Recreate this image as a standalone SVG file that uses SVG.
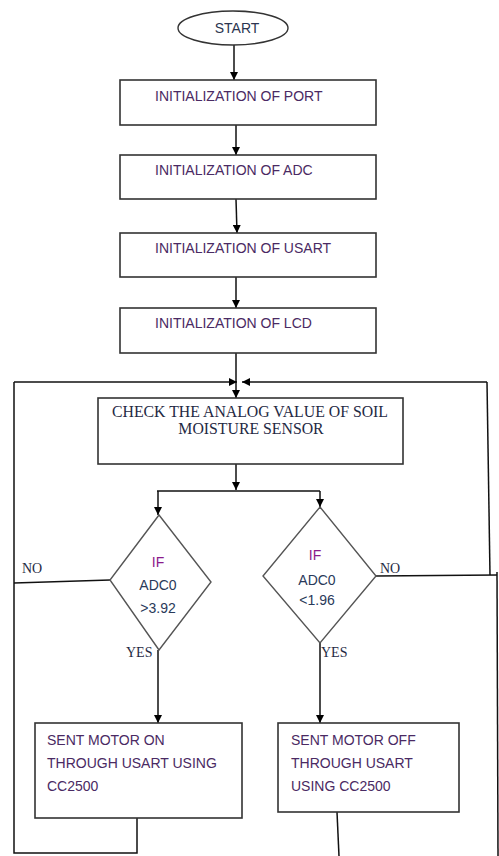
<svg xmlns="http://www.w3.org/2000/svg" width="499" height="856" viewBox="0 0 499 856">
<defs>
<marker id="ah" viewBox="0 0 10 10" refX="10" refY="5" markerWidth="8" markerHeight="8" markerUnits="userSpaceOnUse" orient="auto">
<path d="M0,0 L10,5 L0,10 Z" fill="#000"/>
</marker>
</defs>
<style>
.box{fill:#fff;stroke:#333;stroke-width:1.6}
.dia{fill:#fff;stroke:#555;stroke-width:1.4}
.ln{fill:none;stroke:#111;stroke-width:1.5}
.arr{fill:none;stroke:#111;stroke-width:1.5;marker-end:url(#ah)}
.cal{font-family:"Liberation Sans",Arial,sans-serif;font-size:14px;fill:#4a2a63}
.tim{font-family:"Liberation Serif","Times New Roman",serif;font-size:15.8px;fill:#1f2a44}
.lab{font-family:"Liberation Serif","Times New Roman",serif;font-size:14px;fill:#1f2a44}
.dt{font-family:"Liberation Sans",Arial,sans-serif;font-size:14px;fill:#2a3a5a;text-anchor:middle}
.if{fill:#8b1a8b}
</style>
<g id="connectors">
<path class="arr" d="M234,45 L234,80"/>
<path class="arr" d="M236,125 L236,155"/>
<path class="arr" d="M236,199 L237,233"/>
<path class="arr" d="M236,277 L236,308"/>
<path class="ln" d="M236,353 L236,382"/>
<path class="arr" d="M14,382 L237,382"/>
<path class="arr" d="M487,382 L242,382"/>
<path class="arr" d="M236,382 L236,398"/>
<path class="arr" d="M236,464 L236,490"/>
<path class="ln" d="M157,491 L320,491"/>
<path class="arr" d="M158,491 L158,515"/>
<path class="arr" d="M320,491 L320,507"/>
<path class="ln" d="M487,382 L490,575"/>
<path class="ln" d="M376,576 L497,575"/>
<path class="ln" d="M497,572 L498,856"/>
<path class="ln" d="M110,580 L14,583"/>
<path class="ln" d="M14,382 L14,853 L137,853 L137,818"/>
<path class="arr" d="M158,650 L158,723"/>
<path class="arr" d="M320,643 L320,723"/>
<path class="ln" d="M337,812 L339,856"/>
</g>
<g id="start">
<ellipse cx="233" cy="28" rx="55" ry="17" fill="#fff" stroke="#333" stroke-width="1.4"/>
<text x="237" y="33" class="cal" text-anchor="middle" style="fill:#2b3550">START</text>
</g>
<g id="init-port">
<rect class="box" x="120" y="80" width="256" height="45"/>
<text class="cal" x="155" y="101">INITIALIZATION OF PORT</text>
</g>
<g id="init-adc">
<rect class="box" x="120" y="155" width="256" height="44"/>
<text class="cal" x="155" y="175">INITIALIZATION OF ADC</text>
</g>
<g id="init-usart">
<rect class="box" x="120" y="233" width="256" height="44"/>
<text class="cal" x="155" y="253">INITIALIZATION OF USART</text>
</g>
<g id="init-lcd">
<rect class="box" x="120" y="308" width="256" height="45"/>
<text class="cal" x="155" y="328">INITIALIZATION OF LCD</text>
</g>
<g id="check">
<rect class="box" x="98" y="398" width="305" height="66"/>
<text class="tim" x="250" y="417" text-anchor="middle">CHECK THE ANALOG VALUE OF SOIL</text>
<text class="tim" x="251" y="434" text-anchor="middle">MOISTURE SENSOR</text>
</g>
<g id="if-high">
<path class="dia" d="M159,515 L211,582 L159,650 L110,580 Z"/>
<text class="dt if" x="158" y="567">IF</text>
<text class="dt" x="158" y="590">ADC0</text>
<text class="dt" x="158" y="613">&gt;3.92</text>
<text class="lab" x="22" y="573">NO</text>
<text class="lab" x="126" y="657">YES</text>
</g>
<g id="if-low">
<path class="dia" d="M320,507 L376,576 L320,643 L263,576 Z"/>
<text class="dt if" x="315" y="560">IF</text>
<text class="dt" x="317" y="585">ADC0</text>
<text class="dt" x="317" y="605">&lt;1.96</text>
<text class="lab" x="380" y="573">NO</text>
<text class="lab" x="321" y="657">YES</text>
</g>
<g id="motor-on">
<rect class="box" x="35" y="723" width="207" height="95"/>
<text class="cal" x="47" y="745">SENT MOTOR ON</text>
<text class="cal" x="47" y="768">THROUGH USART USING</text>
<text class="cal" x="47" y="791">CC2500</text>
</g>
<g id="motor-off">
<rect class="box" x="278" y="723" width="181" height="89"/>
<text class="cal" x="291" y="745">SENT MOTOR OFF</text>
<text class="cal" x="291" y="768">THROUGH USART</text>
<text class="cal" x="291" y="791">USING CC2500</text>
</g>
</svg>
